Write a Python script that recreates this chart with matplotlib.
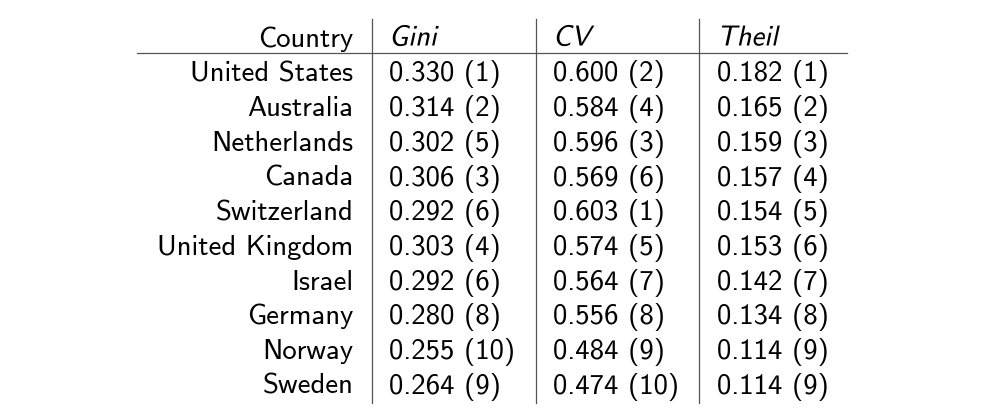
import matplotlib
matplotlib.use("Agg")
import matplotlib.pyplot as plt
from matplotlib.font_manager import FontProperties
from matplotlib.textpath import TextPath
from matplotlib.patches import PathPatch
from matplotlib.transforms import Affine2D

countries = [
    "United States", "Australia", "Netherlands", "Canada", "Switzerland",
    "United Kingdom", "Israel", "Germany", "Norway", "Sweden",
]
gini = [0.330, 0.314, 0.302, 0.306, 0.292, 0.303, 0.292, 0.280, 0.255, 0.264]
gini_rank = [1, 2, 5, 3, 6, 4, 6, 8, 10, 9]
cv = [0.600, 0.584, 0.596, 0.569, 0.603, 0.574, 0.564, 0.556, 0.484, 0.474]
cv_rank = [2, 4, 3, 6, 1, 5, 7, 8, 9, 10]
theil = [0.182, 0.165, 0.159, 0.157, 0.154, 0.153, 0.142, 0.134, 0.114, 0.114]
theil_rank = [1, 2, 3, 4, 5, 6, 7, 8, 9, 9]
headers = ["Gini", "CV", "Theil"]

W, H = 998, 410
fig = plt.figure(figsize=(W / 100, H / 100), dpi=100)
ax = fig.add_axes([0, 0, 1, 1])
ax.set_xlim(0, W)
ax.set_ylim(0, H)
ax.axis("off")

fontsize = 20.7
fp = FontProperties(family="cmss10", size=fontsize)
em_px = fontsize * 100 / 72
line_kw = dict(color="#555555", linewidth=0.9)

country_x = 353.5
col_x = [389, 553, 717]
sep_x = [372, 536, 699]
header_base = 46.5
row_base0 = 81.5
row_step = 34.7


def italic(x, y, s):
    # no italic cmss shipped, so shear the upright outline
    path = TextPath((0, 0), s, size=em_px, prop=fp)
    tr = Affine2D().skew_deg(12, 0).translate(x, H - y) + ax.transData
    ax.add_patch(PathPatch(path, transform=tr, facecolor="black",
                           edgecolor="none"))


ax.text(country_x, H - header_base, "Country", fontproperties=fp,
        ha="right", va="baseline")
for x, h in zip(col_x, headers):
    italic(x, header_base, h)

columns = [(gini, gini_rank), (cv, cv_rank), (theil, theil_rank)]
for i, name in enumerate(countries):
    yb = H - (row_base0 + i * row_step)
    ax.text(country_x, yb, name, fontproperties=fp,
            ha="right", va="baseline")
    for x, (vals, ranks) in zip(col_x, columns):
        ax.text(x, yb, f"{vals[i]:.3f} ({ranks[i]})", fontproperties=fp,
                ha="left", va="baseline")

ax.plot([137, 847], [H - 54, H - 54], **line_kw)
for x in sep_x:
    ax.plot([x, x], [H - 20, H - 404], **line_kw)

fig.savefig("out.png", dpi=100)
